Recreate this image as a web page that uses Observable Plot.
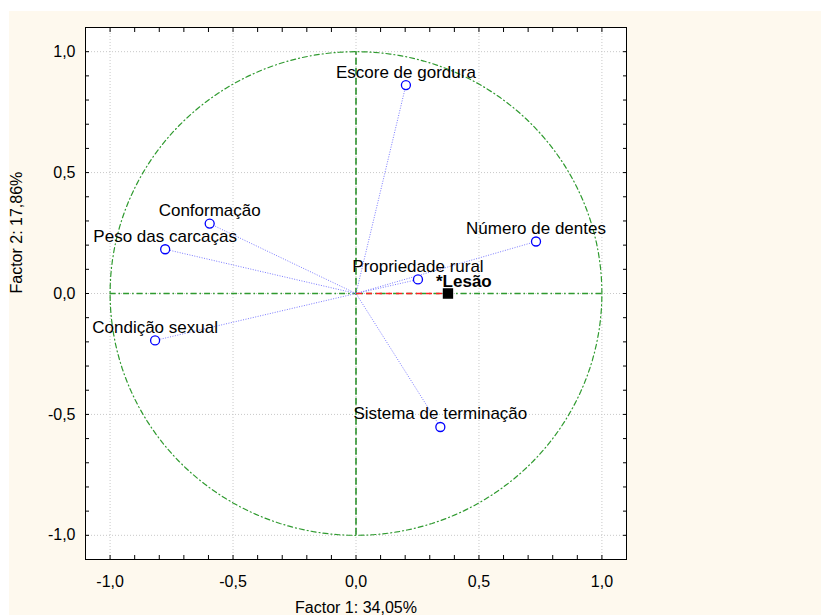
<!DOCTYPE html>
<html>
<head>
<meta charset="utf-8">
<script src="https://cdn.jsdelivr.net/npm/d3@7"></script>
<script src="https://cdn.jsdelivr.net/npm/@observablehq/plot@0.6"></script>
<style>
  html, body { margin: 0; padding: 0; background: white; }
  #wrap { position: relative; width: 821px; height: 615px; overflow: hidden; }
  #cream { position: absolute; left: 9px; top: 11px; right: 0; bottom: 0; background: #fef9ee; }
  #chart { position: absolute; left: 0; top: 0; }
</style>
</head>
<body>
<div id="wrap"><div id="cream"></div><div id="chart"></div></div>
<script>
// Variable names and their loadings on Factor 1 / Factor 2
const varNames = ["Escore de gordura", "Número de dentes", "Propriedade rural", "Conformação",
                  "Peso das carcaças", "Condição sexual", "Sistema de terminação"];
const factor1 = [0.203, 0.732, 0.252, -0.595, -0.776, -0.817, 0.343];
const factor2 = [0.862, 0.215, 0.058, 0.289, 0.183, -0.194, -0.552];

// Supplementary variable
const suppNames = ["*Lesão"];
const suppF1 = [0.374];
const suppF2 = [0.0];

// Axis ticks
const majorTicks = [-1.0, -0.5, 0.0, 0.5, 1.0];
const minorTicks = [-1.0, -0.9, -0.8, -0.7, -0.6, -0.5, -0.4, -0.3, -0.2, -0.1, 0.0,
                    0.1, 0.2, 0.3, 0.4, 0.5, 0.6, 0.7, 0.8, 0.9, 1.0];
const xTitle = "Factor 1: 34,05%";
const yTitle = "Factor 2: 17,86%";

const points = varNames.map((name, i) => ({name, x: factor1[i], y: factor2[i]}));
const supp = suppNames.map((name, i) => ({name, x: suppF1[i], y: suppF2[i]}));

// Unit circle (reference guide)
const circle = d3.range(0, 361, 2).map(a => ({x: Math.cos(a * Math.PI / 180), y: Math.sin(a * Math.PI / 180)}));

const fmt = d => d.toFixed(1).replace(".", ",");
const green = "#2f9a2f";

const chart = Plot.plot({
  width: 821,
  height: 615,
  marginLeft: 85,
  marginRight: 195,
  marginTop: 27,
  marginBottom: 56,
  x: {domain: [-1.1, 1.1]},
  y: {domain: [-1.1, 1.1]},
  style: {background: "transparent", fontFamily: "'Liberation Sans', Arial, sans-serif", color: "black"},
  marks: [
    Plot.frame({fill: "white", stroke: null}),
    Plot.gridX(majorTicks, {stroke: "#c8c8c8", strokeOpacity: 1, strokeDasharray: "1,2"}),
    Plot.gridY(majorTicks, {stroke: "#c8c8c8", strokeOpacity: 1, strokeDasharray: "1,2"}),
    // minor inward ticks on all sides
    Plot.axisX({anchor: "bottom", ticks: minorTicks, tickSize: -4, tickFormat: () => "", label: null}),
    Plot.axisX({anchor: "top", ticks: minorTicks, tickSize: -4, tickFormat: () => "", label: null}),
    Plot.axisY({anchor: "left", ticks: minorTicks, tickSize: -4, tickFormat: () => "", label: null}),
    Plot.axisY({anchor: "right", ticks: minorTicks, tickSize: -4, tickFormat: () => "", label: null}),
    // labels
    Plot.axisX({anchor: "bottom", ticks: majorTicks, tickSize: 0, tickPadding: 16, tickFormat: fmt, label: null, fontSize: 16}),
    Plot.axisY({anchor: "left", ticks: majorTicks, tickSize: 0, tickPadding: 10, tickFormat: fmt, label: null, fontSize: 16}),
    // unit circle
    Plot.line(circle, {x: "x", y: "y", stroke: green, strokeWidth: 1.2, strokeDasharray: "5,3,1,3"}),
    // axis lines
    Plot.ruleY([0], {x1: -1, x2: 1, stroke: green, strokeWidth: 1.5, strokeDasharray: "6,3,1.5,3"}),
    Plot.ruleX([0], {y1: -1, y2: 1, stroke: "#1f8a1f", strokeWidth: 1.5, strokeDasharray: "7,3"}),
    // loading vectors
    Plot.link(points, {x1: () => 0, y1: () => 0, x2: "x", y2: "y", stroke: "#7b7bff", strokeWidth: 1, strokeDasharray: "1,1.5"}),
    Plot.link(supp, {x1: () => 0, y1: () => 0, x2: "x", y2: "y", stroke: "#ff2020", strokeWidth: 1.5, strokeDasharray: "6,4"}),
    Plot.dot(points, {x: "x", y: "y", r: 4.5, stroke: "#0000ff", fill: "white", strokeWidth: 1.3}),
    Plot.dot(supp, {x: "x", y: "y", symbol: "square", r: 5, fill: "black", stroke: "black"}),
    Plot.text(points, {x: "x", y: "y", text: "name", fontSize: 17, dy: -13, lineAnchor: "middle", fill: "black"}),
    Plot.text(supp, {x: "x", y: "y", text: "name", fontSize: 17, fontWeight: "bold", textAnchor: "start", dx: -12, dy: -11.5, lineAnchor: "middle", fill: "black"}),
    // axis titles
    Plot.text([xTitle], {frameAnchor: "bottom", text: d => d, dy: 48, fontSize: 16, lineAnchor: "middle"}),
    Plot.text([yTitle], {frameAnchor: "left", text: d => d, dx: -69, rotate: -90, fontSize: 16, lineAnchor: "middle"}),
    Plot.frame({stroke: "black", strokeWidth: 1})
  ]
});
document.getElementById("chart").appendChild(chart);
</script>
</body>
</html>
